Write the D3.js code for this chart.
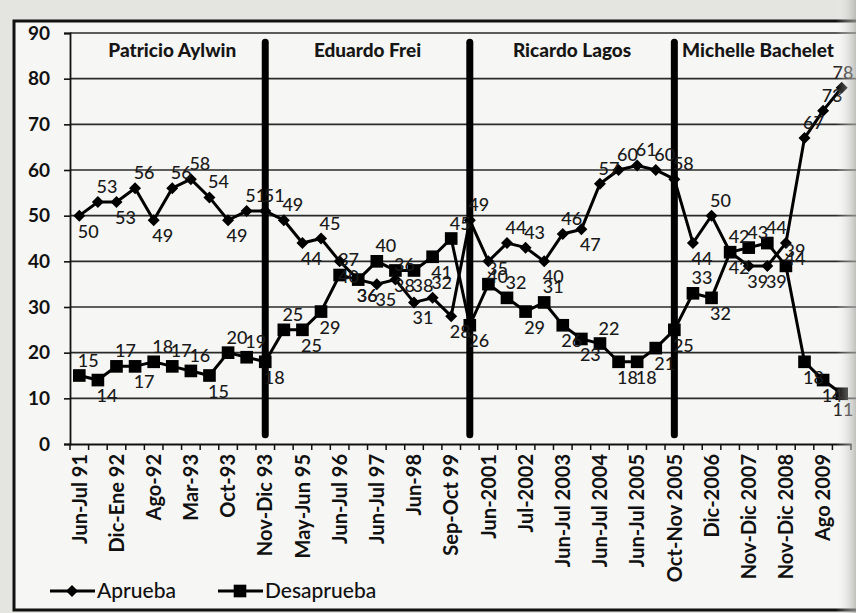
<!DOCTYPE html>
<html>
<head>
<meta charset="utf-8">
<script src="https://cdn.jsdelivr.net/npm/d3@7"></script>
<style>
  body { margin:0; background:#e4e4e1; }
  svg text { font-family: Lato, "Open Sans", sans-serif; }
</style>
</head>
<body>
<div id="chart"></div>
<script>
// aprobacion presidencial, encuestas CEP

var etiquetas = ['Jun-Jul 91','','Dic-Ene 92','','Ago-92','','Mar-93','','Oct-93','',
  'Nov-Dic 93','','May-Jun 95','','Jun-Jul 96','','Jun-Jul 97','','Jun-98','',
  'Sep-Oct 99','','Jun-2001','','Jul-2002','','Jun-Jul 2003','','Jun-Jul 2004','',
  'Jun-Jul 2005','','Oct-Nov 2005','','Dic-2006','','Nov-Dic 2007','','Nov-Dic 2008','',
  'Ago 2009',''];

var aprueba = [50,53,53,56,49,56,58,54,49,51,
  51,49,44,45,40,36,35,36,31,32,
  28,49,40,44,43,40,46,47,57,60,
  61,60,58,44,50,42,39,39,44,67,
  73,78];

var desaprueba = [15,14,17,17,18,17,16,15,20,19,
  18,25,25,29,37,36,40,38,38,41,
  45,26,35,32,29,31,26,23,22,18,
  18,21,25,33,32,42,43,44,39,18,
  14,11];

var presidentes = ['Patricio Aylwin','Eduardo Frei','Ricardo Lagos','Michelle Bachelet'];
var cortes = [10,21,32];   // ultima encuesta de cada gobierno
var yTicks = [0,10,20,30,40,50,60,70,80,90];

var W = 856, H = 613;
var margin = {t:33, r:5, b:169, l:70};

var svg = d3.select('#chart').append('svg')
  .attr('width',W).attr('height',H);

// degradado del borde derecho (pagina escaneada)
var grad = svg.append('defs').append('linearGradient').attr('id','borde')
  .attr('x1','0').attr('x2','1');
grad.append('stop').attr('offset','0').attr('stop-color','#f6f6f4').attr('stop-opacity',0);
grad.append('stop').attr('offset','1').attr('stop-color','#a9a9a6').attr('stop-opacity',0.7);

// marco del grafico
svg.append('rect')
  .attr('x',14).attr('y',21).attr('width',W).attr('height',589)
  .attr('fill','#f6f6f4').attr('stroke','#111').attr('stroke-width',3);

var x = d3.scaleBand()
  .domain(d3.range(etiquetas.length))
  .range([margin.l, 851])
  .paddingInner(0).paddingOuter(0);

var y = d3.scaleLinear().domain([0,90]).range([444,33]);

var cx = function(i){ return x(i) + x.bandwidth()/2; };

// grilla
svg.append('g').selectAll('line').data(yTicks.slice(1)).enter()
  .append('line')
  .attr('x1',margin.l).attr('x2',W)
  .attr('y1',function(d){return y(d);}).attr('y2',function(d){return y(d);})
  .attr('stroke','#2a2a2a').attr('stroke-width',1.6);

// eje y
var yAxis = svg.append('g')
  .attr('transform','translate('+margin.l+',0)')
  .call(d3.axisLeft(y).tickValues(yTicks).tickSize(6).tickPadding(14));
yAxis.select('.domain').attr('stroke','#111').attr('stroke-width',1.8);
yAxis.selectAll('line').attr('stroke','#111').attr('stroke-width',1.6);
yAxis.selectAll('text').attr('font-size',19).attr('font-weight',700).attr('fill','#111');

// eje x
var xAxis = svg.append('g')
  .attr('transform','translate(0,'+y(0)+')')
  .call(d3.axisBottom(x).tickSize(0).tickFormat(function(i){return etiquetas[i];}));
xAxis.select('.domain').attr('stroke','#111').attr('stroke-width',1.8);
xAxis.selectAll('text')
  .attr('transform','rotate(-90)')
  .attr('text-anchor','end')
  .attr('x',-10).attr('y',0).attr('dy','0.36em')
  .attr('font-size',20).attr('font-weight',700).attr('fill','#111');

// marcas entre categorias
svg.append('g').selectAll('line').data(d3.range(etiquetas.length+1)).enter()
  .append('line')
  .attr('x1',function(i){return margin.l + i*x.step();})
  .attr('x2',function(i){return margin.l + i*x.step();})
  .attr('y1',y(0)).attr('y2',y(0)+6)
  .attr('stroke','#111').attr('stroke-width',1.5);

// lineas separadoras de gobiernos
svg.append('g').selectAll('line').data(cortes).enter()
  .append('line')
  .attr('x1',function(i){return cx(i);}).attr('x2',function(i){return cx(i);})
  .attr('y1',y(88)).attr('y2',y(2))
  .attr('stroke','#000').attr('stroke-width',7).attr('stroke-linecap','round');

// nombres de presidentes
var limites = [0].concat(cortes).concat([etiquetas.length-1]);
svg.append('g').selectAll('text').data(presidentes).enter()
  .append('text')
  .attr('x',function(d,k){ return (cx(limites[k]) + cx(limites[k+1]))/2; })
  .attr('y',57)
  .attr('text-anchor','middle')
  .attr('font-size',19).attr('font-weight',900).attr('fill','#161616')
  .text(function(d){return d;});

var linea = d3.line()
  .x(function(d,i){return cx(i);})
  .y(function(d){return y(d);});

var diamante = d3.symbol().type(d3.symbolSquare).size(72);
var cuadrado = d3.symbol().type(d3.symbolSquare).size(160);

function serie(valores, simbolo, rotar){
  var g = svg.append('g');
  g.append('path').datum(valores)
    .attr('d',linea).attr('fill','none')
    .attr('stroke','#000').attr('stroke-width',3);
  g.selectAll('path.m').data(valores).enter()
    .append('path').attr('class','m')
    .attr('d',simbolo)
    .attr('transform',function(d,i){
      return 'translate('+cx(i)+','+y(d)+')'+(rotar?' rotate(45)':'');
    })
    .attr('fill','#000');
  return g;
}

function rotulos(valores){
  svg.append('g').selectAll('text').data(valores).enter()
    .append('text')
    .attr('x',function(d,i){return Math.min(cx(i)+9, W-13);})
    .attr('y',function(d,i){
      var a = i>0 ? valores[i-1] : valores[i+1];
      var b = i<valores.length-1 ? valores[i+1] : valores[i-1];
      return d >= (a+b)/2 ? y(d)-9 : y(d)+22;
    })
    .attr('text-anchor','middle')
    .attr('font-size',18).attr('font-weight',500).attr('fill','#1a1a1a')
    .text(function(d){return d;});
}

serie(desaprueba, cuadrado, false);
serie(aprueba, diamante, true);
rotulos(desaprueba);
rotulos(aprueba);

// leyenda
var ley = svg.append('g').attr('transform','translate(0,591)');
[{t:'Aprueba', x:50, s:diamante, r:true},{t:'Desaprueba', x:218, s:cuadrado, r:false}]
  .forEach(function(l){
    ley.append('line').attr('x1',l.x).attr('x2',l.x+45).attr('y1',0).attr('y2',0)
      .attr('stroke','#000').attr('stroke-width',3);
    ley.append('path').attr('d',l.s)
      .attr('transform','translate('+(l.x+22)+',0)'+(l.r?' rotate(45)':''))
      .attr('fill','#000');
    ley.append('text').attr('x',l.x+47).attr('y',0).attr('dy','0.35em')
      .attr('font-size',21).attr('font-weight',500).attr('fill','#111')
      .text(l.t);
  });

svg.append('rect').attr('x',836).attr('y',0).attr('width',20).attr('height',H)
  .attr('fill','url(#borde)');
</script>
</body>
</html>
